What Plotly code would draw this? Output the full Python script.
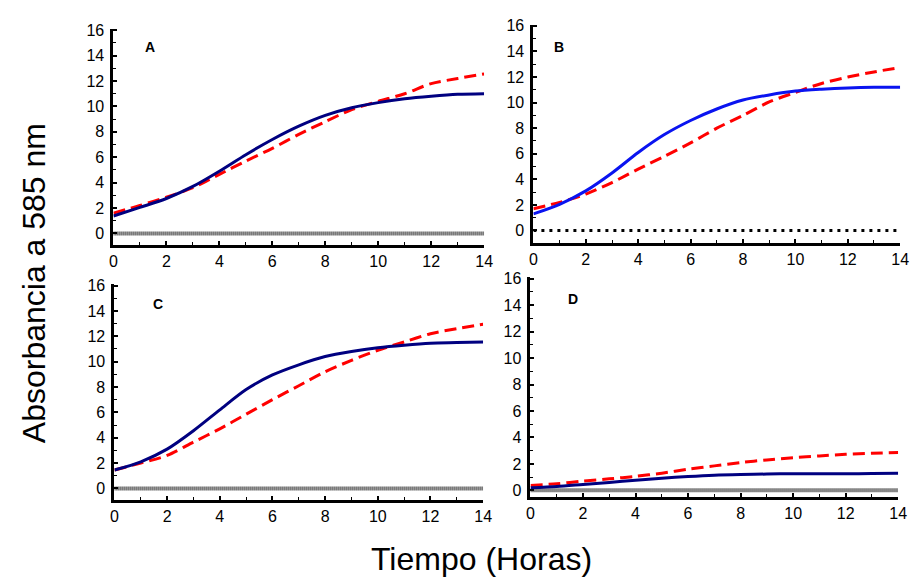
import plotly.graph_objects as go

hours = list(range(0, 15))

a_solid = [1.37, 2.05, 2.75, 3.7, 4.9, 6.2, 7.4, 8.45, 9.3, 9.9, 10.3, 10.6, 10.8, 10.95, 11.0]
a_dash = [1.6, 2.2, 2.85, 3.6, 4.65, 5.7, 6.7, 7.8, 8.8, 9.75, 10.4, 11.0, 11.8, 12.2, 12.56]

b_solid = [1.3, 2.05, 3.1, 4.5, 6.1, 7.5, 8.6, 9.5, 10.2, 10.6, 10.9, 11.05, 11.15, 11.2, 11.2]
b_dash = [1.7, 2.2, 2.85, 3.75, 4.8, 5.8, 6.85, 8.0, 9.0, 10.05, 10.8, 11.5, 12.0, 12.4, 12.75]

c_solid = [1.45, 2.1, 3.1, 4.55, 6.2, 7.8, 8.95, 9.75, 10.4, 10.8, 11.1, 11.3, 11.45, 11.5, 11.55]
c_dash = [1.45, 2.0, 2.6, 3.65, 4.7, 5.85, 7.0, 8.1, 9.2, 10.1, 10.9, 11.55, 12.2, 12.6, 12.95]

d_solid = [0.2, 0.3, 0.45, 0.6, 0.77, 0.92, 1.05, 1.15, 1.2, 1.23, 1.26, 1.26, 1.26, 1.27, 1.29]
d_dash = [0.37, 0.5, 0.7, 0.87, 1.06, 1.3, 1.6, 1.85, 2.1, 2.3, 2.47, 2.6, 2.72, 2.8, 2.87]

zero_x = [0, 14]
zero_y = [0, 0]

panel_labels = ["A", "B", "C", "D"]
x_ticks = [0, 2, 4, 6, 8, 10, 12, 14]
y_ticks = [0, 2, 4, 6, 8, 10, 12, 14, 16]

panels = [
    dict(solid=a_solid, dash=a_dash, solid_color="#000080", zero_color="#111111", zero_dash="1px,1px", zero_w=4,
         xdom=[0.1204, 0.5282], ydom=[0.5806, 0.9613], yr=[-0.93, 16.1], lab=(148, 41)),
    dict(solid=b_solid, dash=b_dash, solid_color="#0a14f0", zero_color="#000000", zero_dash="3px,5px", zero_w=3,
         xdom=[0.5824, 0.9859], ydom=[0.584, 0.969], yr=[-1.0, 16.1], lab=(563, 41)),
    dict(solid=c_solid, dash=c_dash, solid_color="#000080", zero_color="#111111", zero_dash="1px,1px", zero_w=4,
         xdom=[0.1215, 0.5271], ydom=[0.1317, 0.5118], yr=[-0.93, 16.1], lab=(156, 302)),
    dict(solid=d_solid, dash=d_dash, solid_color="#000080", zero_color="#111111", zero_dash="1px,1px", zero_w=4,
         xdom=[0.5792, 0.9837], ydom=[0.1369, 0.5241], yr=[-0.52, 16.1], lab=(577, 297)),
]

W, H = 922, 577
FONT = "Liberation Sans, Arial"
fig = go.Figure()
layout = dict(width=W, height=H, margin=dict(l=0, r=0, t=0, b=0),
              paper_bgcolor="white", plot_bgcolor="white", showlegend=False,
              font=dict(family=FONT, color="black"))
annotations = []
for i, p in enumerate(panels):
    n = i + 1
    xa = "x" if n == 1 else f"x{n}"
    ya = "y" if n == 1 else f"y{n}"
    fig.add_trace(go.Scatter(x=zero_x, y=zero_y, mode="lines", xaxis=xa, yaxis=ya,
                             line=dict(color=p["zero_color"], width=p["zero_w"], dash=p["zero_dash"]),
                             hoverinfo="skip"))
    fig.add_trace(go.Scatter(x=hours, y=p["dash"], mode="lines", xaxis=xa, yaxis=ya,
                             line=dict(color="#ff0000", width=3, dash="12px,6px", shape="spline", smoothing=0.8)))
    fig.add_trace(go.Scatter(x=hours, y=p["solid"], mode="lines", xaxis=xa, yaxis=ya,
                             line=dict(color=p["solid_color"], width=3, shape="spline", smoothing=0.8)))
    xkey = "xaxis" if n == 1 else f"xaxis{n}"
    ykey = "yaxis" if n == 1 else f"yaxis{n}"
    layout[xkey] = dict(domain=p["xdom"], anchor=ya, range=[0, 14], tickvals=x_ticks,
                        showline=True, linewidth=3, linecolor="black", showgrid=False, zeroline=False,
                        ticks="inside", ticklen=4, tickwidth=2, tickcolor="black",
                        minor=dict(dtick=1, ticks="inside", ticklen=3, tickwidth=1, tickcolor="black"),
                        tickfont=dict(size=16, family=FONT))
    layout[ykey] = dict(domain=p["ydom"], anchor=xa, range=p["yr"], tickvals=y_ticks,
                        showline=True, linewidth=3, linecolor="black", showgrid=False, zeroline=False,
                        ticks="inside", ticklen=4, tickwidth=2, tickcolor="black",
                        minor=dict(tick0=0, dtick=1, ticks="inside", ticklen=3, tickwidth=1, tickcolor="black"),
                        tickfont=dict(size=16, family=FONT), ticklabelstandoff=3)
    annotations.append(dict(text=f"<b>{panel_labels[i]}</b>", x=p["lab"][0] / W, y=1 - p["lab"][1] / H,
                            xref="paper", yref="paper", showarrow=False, xanchor="center", yanchor="middle",
                            font=dict(size=14, family=FONT)))

annotations.append(dict(text="Absorbancia a 585 nm", x=30 / W, y=1 - 281 / H, xref="paper", yref="paper",
                        showarrow=False, textangle=-90, xanchor="center", yanchor="middle",
                        font=dict(size=32, family=FONT)))
annotations.append(dict(text="Tiempo (Horas)", x=484 / W, y=1 - 561 / H, xref="paper", yref="paper",
                        showarrow=False, xanchor="center", yanchor="middle",
                        font=dict(size=32, family=FONT)))
layout["annotations"] = annotations
fig.update_layout(**layout)
fig.write_html("out.html")
